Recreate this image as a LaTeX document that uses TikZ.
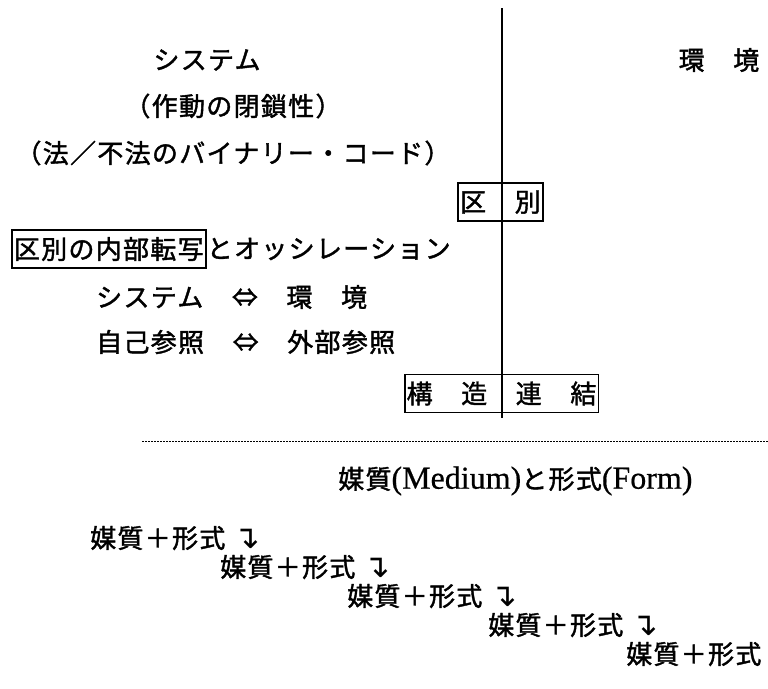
\documentclass[tikz,border=0pt]{standalone}
\usepackage{fontspec}
\newfontfamily\jp[LetterSpace=5,FakeBold=1.5]{Noto Sans CJK JP}
\newfontfamily\lser[FakeBold=0.5]{Liberation Serif}
\newfontfamily\sym{DejaVu Sans}
\begin{document}
\begin{tikzpicture}[x=1pt,y=-1pt,
  font=\jp\fontsize{26}{30}\selectfont,
  txt/.style={inner sep=0pt},
  boxed/.style={draw, line width=1.8pt, inner xsep=2pt, inner ysep=0pt, minimum height=38pt},
  rule/.style={line width=1.6pt},
  dotrule/.style={line width=0.8pt, dash pattern=on 2pt off 1pt},
  arrowch/.style={inner sep=0pt, font=\sym\fontsize{32}{34}\selectfont}]
\useasboundingbox (0,0) rectangle (768,688);

\node[txt] (sys) at (207,60) {システム};
\node[txt] (env) at (719,60) {環　境};
\node[txt] (op) at (233,106) {（作動の閉鎖性）};
\node[txt] (code) at (233,153) {（法／不法のバイナリー・コード）};
\node[boxed] (dist) at (500.5,202) {区　別};
\node[boxed, anchor=west] (copy) at (11,249) {区別の内部転写};
\node[txt, anchor=west] (osc) at (copy.east) {とオッシレーション};
\node[txt, anchor=west] (r1) at (96,297) {システム　⇔　環　境};
\node[txt, anchor=west] (r2) at (96,342) {自己参照　⇔　外部参照};
\node[boxed] (coup) at (501.5,393.5) {構　造　連　結};

\coordinate (top) at (502,8);
\coordinate (bot) at (502,418);
\draw[rule] (top) -- (bot);

\coordinate (dl) at (142,441);
\coordinate (dr) at (768,441);
\draw[dotrule] (dl) -- (dr);

\node[txt, anchor=west] (mf) at (338,481) {媒質{\lser\fontsize{32}{34}\selectfont (Medium)}と形式{\lser\fontsize{32}{34}\selectfont (Form)}};

\node[txt, anchor=west] (m1) at (90,538) {媒質＋形式};
\node[arrowch, anchor=west] (a1) at ([xshift=8pt,yshift=-1pt]m1.east) {↴};
\node[txt, anchor=west] (m2) at (220,567) {媒質＋形式};
\node[arrowch, anchor=west] (a2) at ([xshift=8pt,yshift=-1pt]m2.east) {↴};
\node[txt, anchor=west] (m3) at (347,596) {媒質＋形式};
\node[arrowch, anchor=west] (a3) at ([xshift=8pt,yshift=-1pt]m3.east) {↴};
\node[txt, anchor=west] (m4) at (488,625) {媒質＋形式};
\node[arrowch, anchor=west] (a4) at ([xshift=8pt,yshift=-1pt]m4.east) {↴};
\node[txt, anchor=west] (m5) at (626,654) {媒質＋形式};
\end{tikzpicture}
\end{document}
